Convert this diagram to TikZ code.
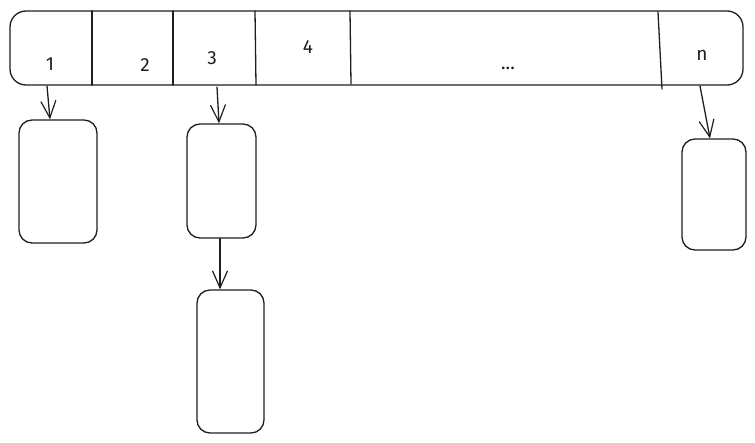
\documentclass[tikz,border=0pt]{standalone}
\usepackage{fontspec}
\setmainfont{Fira Sans}
\usetikzlibrary{arrows.meta}
\definecolor{ink}{HTML}{1E1E1E}
\begin{document}
\begin{tikzpicture}[x=1pt,y=-1pt,
  line width=1.3pt, draw=ink, line join=round, line cap=round,
  cell/.style={text=ink, font=\fontsize{19}{22}\selectfont, inner sep=0pt},
  bucket/.style={draw=ink, rounded corners=13pt, inner sep=0pt},
  link/.style={draw=ink, -{Straight Barb[length=17pt,width=15pt,line width=1.2pt]}}]
  \useasboundingbox (0,0) rectangle (755,442);
  % the array of slots
  \node[bucket, rounded corners=16pt, minimum width=733pt, minimum height=74pt] (bar) at (376.5,48) {};
  \draw (92,11) -- (92,85);
  \draw (173,11) -- (173,85);
  \draw (255,11) -- (256,85);
  \draw (350,11) -- (351,84);
  \draw (658,12) -- (662,89);
  % slot labels
  \node[cell] (l1) at (50,64) {1};
  \node[cell] (l2) at (145,65) {2};
  \node[cell] (l3) at (212,58) {3};
  \node[cell] (l4) at (308,47) {4};
  \node[cell] (ldots) at (508,68) {...};
  \node[cell] (ln) at (702,55) {n};
  % chained entries
  \node[bucket, minimum width=78pt, minimum height=123pt] (b1) at (58,181.5) {};
  \node[bucket, minimum width=69pt, minimum height=114pt] (b3) at (221.5,181) {};
  \node[bucket, minimum width=67pt, minimum height=143pt] (b3b) at (230.5,361.5) {};
  \node[bucket, minimum width=64pt, minimum height=111pt] (bn) at (714,194.5) {};
  % pointers
  \coordinate (s1) at (47,86);
  \coordinate (s3) at (217,87);
  \coordinate (sn) at (700,86);
  \draw[link] (s1) -- ([xshift=-8pt]b1.north);
  \draw[link] (s3) -- ([xshift=-2.5pt]b3.north);
  \draw[link] ([xshift=-1.5pt]b3.south) -- ([xshift=-10.5pt]b3b.north);
  \draw[link] (sn) -- ([xshift=-4pt]bn.north);
\end{tikzpicture}
\end{document}
